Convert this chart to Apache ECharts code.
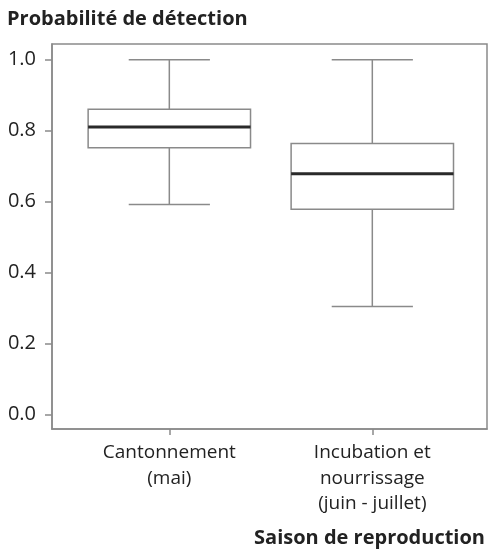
<!DOCTYPE html>
<html>
<head>
<meta charset="utf-8">
<script src="https://cdn.jsdelivr.net/npm/echarts@6/dist/echarts.min.js"></script>
<style>html,body{margin:0;padding:0;background:#fff;}#c{width:489px;height:554px;}</style>
</head>
<body>
<div id="c"></div>
<script>
var categories = ['Cantonnement\n(mai)', 'Incubation et\nnourrissage\n(juin - juillet)'];
var positions = [1, 2];
var whiskerLow = [0.592, 0.305];
var q1 = [0.752, 0.579];
var median = [0.810, 0.679];
var q3 = [0.860, 0.764];
var whiskerHigh = [1.0, 1.0];
var yTicks = [0, 0.2, 0.4, 0.6, 0.8, 1.0];

var data = positions.map(function (p, i) {
  return [p, whiskerLow[i], q1[i], median[i], q3[i], whiskerHigh[i]];
});

var chart = echarts.init(document.getElementById('c'), null, {renderer: 'canvas'});
var font = '"Open Sans", sans-serif';
var boxHalf = 0.40, capHalf = 0.20;
var lineGrey = '#8a8a8a';

chart.setOption({
  animation: false,
  title: [
    {text: 'Probabilité de détection', left: 2, top: 4,
     textStyle: {fontFamily: font, fontWeight: 'bold', fontSize: 20, color: '#222'}},
    {text: 'Saison de reproduction', right: -1, top: 523,
     textStyle: {fontFamily: font, fontWeight: 'bold', fontSize: 20, color: '#222'}}
  ],
  grid: {left: 52, right: 2, top: 44, bottom: 125, show: true, borderColor: lineGrey, borderWidth: 1.5, backgroundColor: '#fff'},
  xAxis: {
    type: 'value', min: 0.422, max: 2.565,
    splitLine: {show: false},
    axisLine: {show: true, onZero: false, lineStyle: {color: lineGrey, width: 1.5}},
    axisTick: {show: true, length: 6, customValues: positions, lineStyle: {color: lineGrey, width: 1.5}},
    axisLabel: {
      customValues: positions, margin: 11,
      fontFamily: font, fontSize: 19, color: '#222', lineHeight: 25.5,
      formatter: function (v) { return categories[Math.round(v) - 1]; }
    }
  },
  yAxis: {
    type: 'value', min: -0.04, max: 1.044,
    splitLine: {show: false},
    axisLine: {show: true, onZero: false, lineStyle: {color: lineGrey, width: 1.5}},
    axisTick: {show: true, length: 7, customValues: yTicks, lineStyle: {color: lineGrey, width: 1.5}},
    axisLabel: {
      customValues: yTicks, margin: 16,
      fontFamily: font, fontSize: 20, color: '#222',
      formatter: function (v) { return v.toFixed(1); }
    }
  },
  series: [{
    type: 'custom',
    data: data,
    encode: {x: 0, y: [1, 2, 3, 4, 5]},
    renderItem: function (params, api) {
      var x = api.value(0);
      var lo = api.coord([x, api.value(1)]);
      var b1 = api.coord([x - boxHalf, api.value(2)]);
      var b3 = api.coord([x + boxHalf, api.value(4)]);
      var md1 = api.coord([x - boxHalf, api.value(3)]);
      var md2 = api.coord([x + boxHalf, api.value(3)]);
      var hi = api.coord([x, api.value(5)]);
      var c1 = api.coord([x - capHalf, 0])[0];
      var c2 = api.coord([x + capHalf, 0])[0];
      var st = {stroke: lineGrey, lineWidth: 1.5, fill: null};
      return {
        type: 'group',
        children: [
          {type: 'line', shape: {x1: lo[0], y1: lo[1], x2: lo[0], y2: b1[1]}, style: st},
          {type: 'line', shape: {x1: hi[0], y1: hi[1], x2: hi[0], y2: b3[1]}, style: st},
          {type: 'line', shape: {x1: c1, y1: lo[1], x2: c2, y2: lo[1]}, style: st},
          {type: 'line', shape: {x1: c1, y1: hi[1], x2: c2, y2: hi[1]}, style: st},
          {type: 'rect', shape: {x: b1[0], y: b3[1], width: b3[0] - b1[0], height: b1[1] - b3[1]}, style: {stroke: lineGrey, lineWidth: 1.5, fill: '#fff'}},
          {type: 'line', shape: {x1: md1[0], y1: md1[1], x2: md2[0], y2: md2[1]}, style: {stroke: '#2a2a2a', lineWidth: 3}}
        ]
      };
    }
  }]
});
</script>
</body>
</html>
